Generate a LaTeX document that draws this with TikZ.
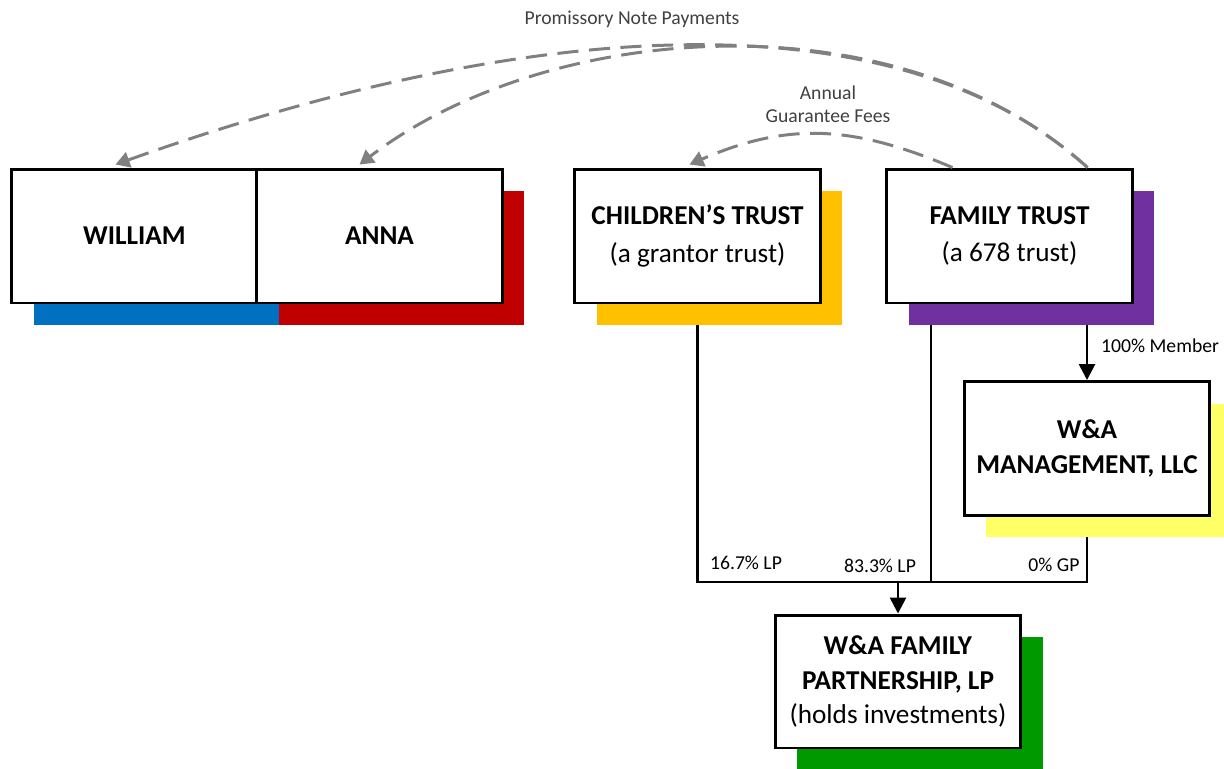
\documentclass[tikz,border=0pt]{standalone}
\usepackage{fontspec}
\setmainfont{Carlito}
\usetikzlibrary{arrows.meta,shadows,backgrounds,calc}

\definecolor{wablue}{HTML}{0070C0}
\definecolor{wared}{HTML}{C00000}
\definecolor{waorange}{HTML}{FFC000}
\definecolor{wapurple}{HTML}{7030A0}
\definecolor{wayellow}{HTML}{FFFF66}
\definecolor{wagreen}{HTML}{009900}
\definecolor{notegray}{HTML}{404040}

\begin{document}
\begin{tikzpicture}[x=0.02cm, y=-0.02cm,
	box/.style={draw, line width=1.7pt, fill=white, minimum width=4.92cm,
		minimum height=2.68cm, inner sep=0pt, align=center,
		font=\fontsize{15.5}{19.5}\selectfont},
	backdrop/.style={drop shadow={shadow xshift=0.44cm, shadow yshift=-0.44cm,
		fill=#1, opacity=1}},
	link/.style={line width=1.5pt},
	flow/.style={gray, line width=1.7pt, dash pattern=on 12pt off 6pt,
		-{Triangle[length=8pt,width=9pt]}},
	note/.style={font=\fontsize{11.2}{13}\selectfont, text=notegray, align=center},
	pct/.style={font=\fontsize{11.2}{13}\selectfont}]
	\useasboundingbox (0,0) rectangle (1224,768);
	\clip (0,0) rectangle (1224,768);

	\node[box, backdrop=wablue] (wil) at (134.5, 236) {\textbf{WILLIAM}};
	\node[box, backdrop=wared] (anna) at (379.5, 236) {\textbf{ANNA}};
	\node[box, backdrop=waorange] (cht) at (697.5, 236)
		{\textbf{CHILDREN’S TRUST}\\[2pt](a grantor trust)};
	\node[box, backdrop=wapurple] (fam) at (1009.5, 236)
		{\textbf{FAMILY TRUST}\\[2pt](a 678 trust)};
	\node[box, backdrop=wayellow] (mgmt) at (1087, 448.5)
		{\textbf{W\&A}\\\textbf{MANAGEMENT, LLC}};
	\node[box, backdrop=wagreen, minimum height=2.66cm] (fwp) at (898, 681.5)
		{\textbf{W\&A FAMILY}\\\textbf{PARTNERSHIP, LP}\\(holds investments)};

	\coordinate (bus) at (898, 582);
	\coordinate (j83) at (931, 582);

	\begin{scope}[on background layer]
		\draw[link] (cht.south) |- (bus) -| (mgmt.south);
		\draw[link] (j83 |- fam.south) -- (j83);
		\draw[link, -{Triangle[length=9pt,width=9pt]}] (bus) -- (fwp.north);
		\draw[link, -{Triangle[length=9pt,width=9pt]}] (mgmt.north |- fam.south) to node[pct, pos=0.55, right, xshift=4pt] {100\% Member} (mgmt.north);
	\end{scope}

	\node[pct] (lp167) at (746, 563) {16.7\% LP};
	\node[pct] (lp833) at (880, 566) {83.3\% LP};
	\node[pct] (gp0) at (1054, 565) {0\% GP};

	% payments back to the grantors
	\draw[flow] ($(fam.north)+(78,0)$) .. controls +(-190,-172) and +(420,-150) .. ($(wil.north)+(-19,-3)$);
	\draw[flow] ($(fam.north)+(78,0)$) .. controls +(-190,-172) and +(190,-145) .. ($(anna.north)+(-20,-3)$);
	\draw[flow] ($(fam.north)+(-57,0)$) .. controls +(-99,-42) and +(99,-43) .. ($(cht.north)+(-8,-3)$);

	\node[note] (pnp) at (632, 19) {Promissory Note Payments};
	\node[note] (agf) at (828, 104) {Annual\\Guarantee Fees};
\end{tikzpicture}
\end{document}
